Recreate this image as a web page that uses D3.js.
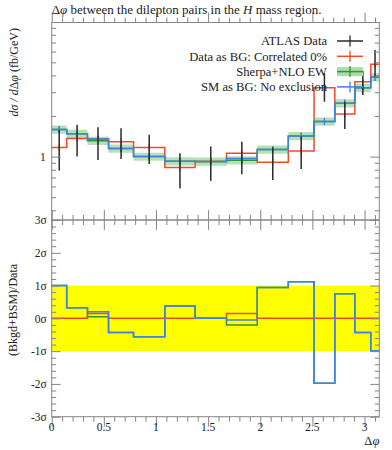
<!DOCTYPE html>
<meta charset="utf-8">
<body style="margin: 0; overflow: hidden; background: #fff">
<script src="https://d3js.org/d3.v7.min.js"></script>
<script>
    // bin edges in delta phi
    var edges = [0, 0.144, 0.343, 0.545, 0.785, 1.085, 1.375, 1.676, 1.971, 2.269, 2.516, 2.715, 2.907, 3.06, Math.PI];

    // top panel values (fb/GeV)
    var atlasData = [1.17, 1.36, 1.30, 1.29, 1.17, 0.83, 0.92, 1.015, 0.91, 1.10, 3.24, 2.07, 3.59, 4.83];
    var atlasErrUp = [0.41, 0.36, 0.35, 0.33, 0.28, 0.23, 0.27, 0.275, 0.26, 0.31, 0.91, 0.48, 0.72, 1.34];
    var atlasErrDn = [0.38, 0.36, 0.355, 0.33, 0.29, 0.25, 0.26, 0.275, 0.24, 0.29, 0.69, 0.47, 0.73, 0.92];
    var dataAsBG = [1.17, 1.36, 1.35, 1.29, 1.17, 0.83, 0.92, 1.06, 0.91, 1.10, 3.24, 2.07, 3.59, 4.83];
    var sherpa = [1.59, 1.48, 1.31, 1.15, 1.0, 0.925, 0.92, 0.94, 1.13, 1.42, 1.82, 2.49, 3.24, 3.87];
    var smAsBG = [1.59, 1.48, 1.35, 1.15, 1.0, 0.925, 0.92, 0.97, 1.13, 1.42, 1.82, 2.49, 3.24, 3.87];
    var sherpaBand = 0.07;   // relative half-width of the green band
    var mcRelErr = 0.06;

    // lower panel, pulls in sigma
    var pullDataBG = [0, 0, 0.15, 0, 0, 0, 0, 0.15, 0, 0, 0, 0, 0, 0];
    var pullSherpa = [1.0, 0.32, 0.05, -0.43, -0.56, 0.38, 0.0, -0.2, 0.94, 1.12, -1.98, 0.75, -0.43, -0.99];
    var pullSM = [1.0, 0.32, 0.2, -0.43, -0.56, 0.38, 0.0, -0.05, 0.94, 1.12, -1.98, 0.75, -0.43, -0.99];

    var xMajor = [0, 0.5, 1, 1.5, 2, 2.5, 3];
    var yTopLabels = [1];
    var sigmaTicks = [-3, -2, -1, 0, 1, 2, 3];

    var red = '#ef4a2c', blue = '#4181ea', green = '#2f972f', band = '#a9dca9';
    var frameCol = '#858585';
    var font = '"Liberation Serif", "DejaVu Serif", serif';

    var width = 392, height = 450;
    var left = 51.7, right = 379.3;
    var topY0 = 22.5, panelY = 220, botY1 = 416.7;

    var x = d3.scaleLinear().domain([0, Math.PI]).range([left, right]);
    var yTop = d3.scaleLog().domain([0.339, 9.86]).range([panelY, topY0]);
    var yRat = d3.scaleLinear().domain([-3, 3]).range([botY1, panelY]);

    var svg = d3.select('body').append('svg')
        .attr('width', width).attr('height', height)
        .style('font-family', font);

    var stepPath = function (vals, y) {
        var p = 'M' + x(edges[0]) + ',' + y(vals[0]);
        vals.forEach(function (v, i) {
            if (i > 0) p += 'V' + y(v);
            p += 'H' + x(edges[i + 1]);
        });
        return p;
    };

    var binIdx = d3.range(atlasData.length);
    var mid = function (i) { return (edges[i] + edges[i + 1]) / 2; };

    // ---------- top panel ----------
    var topG = svg.append('g');
    topG.append('clipPath').attr('id', 'clipTop').append('rect')
        .attr('x', left).attr('y', topY0).attr('width', right - left).attr('height', panelY - topY0);
    var topPlot = topG.append('g').attr('clip-path', 'url(#clipTop)');

    // sherpa band
    var bandPts = [];
    binIdx.forEach(function (i) {
        bandPts.push({x: edges[i], v: sherpa[i]});
        bandPts.push({x: edges[i + 1], v: sherpa[i]});
    });
    topPlot.append('path')
        .attr('d', d3.area()
            .x(function (d) { return x(d.x); })
            .y0(function (d) { return yTop(d.v * (1 - sherpaBand)); })
            .y1(function (d) { return yTop(d.v * (1 + sherpaBand)); })(bandPts))
        .attr('fill', band).attr('opacity', 0.85);

    var drawHist = function (g, vals, col) {
        g.append('path').attr('d', stepPath(vals, yTop))
            .attr('fill', 'none').attr('stroke', col).attr('stroke-width', 1.5);
        g.selectAll(null).data(binIdx).enter().append('line')
            .attr('x1', function (i) { return x(mid(i)); })
            .attr('x2', function (i) { return x(mid(i)); })
            .attr('y1', function (i) { return yTop(vals[i] * (1 + mcRelErr)); })
            .attr('y2', function (i) { return yTop(vals[i] / (1 + mcRelErr)); })
            .attr('stroke', col).attr('stroke-width', 1.2);
    };
    drawHist(topPlot, dataAsBG, red);
    drawHist(topPlot, sherpa, green);
    drawHist(topPlot, smAsBG, blue);

    // data points
    topPlot.selectAll(null).data(binIdx).enter().append('line')
        .attr('x1', function (i) { return x(mid(i)); })
        .attr('x2', function (i) { return x(mid(i)); })
        .attr('y1', function (i) { return yTop(atlasData[i] + atlasErrUp[i]); })
        .attr('y2', function (i) { return yTop(atlasData[i] - atlasErrDn[i]); })
        .attr('stroke', '#2a2a2a').attr('stroke-width', 1.5);

    // ---------- ratio panel ----------
    var bot = svg.append('g');
    bot.append('rect').attr('x', left).attr('width', right - left)
        .attr('y', yRat(1)).attr('height', yRat(-1) - yRat(1)).attr('fill', '#ffff00');
    [[pullSherpa, green], [pullDataBG, red], [pullSM, blue]].forEach(function (s) {
        bot.append('path').attr('d', stepPath(s[0], yRat))
            .attr('fill', 'none').attr('stroke', s[1]).attr('stroke-width', 1.5);
    });

    // ---------- axes / ticks ----------
    var notHalf = function (v) { return Math.abs(v * 2 - Math.round(v * 2)) > 1e-6; };
    var xMinor = d3.range(32).map(function (i) { return i / 10; }).filter(notHalf);

    var styleAxis = function (g) {
        g.select('.domain').remove();
        g.selectAll('line').attr('stroke', frameCol);
        g.selectAll('text').attr('fill', '#222').style('font-family', font).style('font-size', '11.5px');
    };

    var xTickRow = function (y, dir) {
        var mk = dir === 'top' ? d3.axisTop : d3.axisBottom;
        svg.append('g').attr('transform', 'translate(0,' + y + ')')
            .call(mk(x).tickValues(xMajor).tickSize(-10).tickSizeOuter(0).tickFormat(''))
            .call(styleAxis);
        svg.append('g').attr('transform', 'translate(0,' + y + ')')
            .call(mk(x).tickValues(xMinor).tickSize(-5).tickSizeOuter(0).tickFormat(''))
            .call(styleAxis);
    };
    xTickRow(topY0, 'bottom');
    xTickRow(panelY, 'top');
    xTickRow(panelY, 'bottom');
    xTickRow(botY1, 'top');

    // x labels under ratio panel
    svg.append('g').selectAll('text').data(xMajor).enter().append('text')
        .attr('x', function (d) { return x(d); }).attr('y', 430.5)
        .attr('text-anchor', 'middle').style('font-size', '11.5px').attr('fill', '#222')
        .text(function (d) { return d; });

    // top-panel y ticks
    var logMinor = [0.4, 0.5, 0.6, 0.7, 0.8, 0.9, 2, 3, 4, 5, 6, 7, 8, 9];
    [[left, d3.axisLeft], [right, d3.axisRight]].forEach(function (s, k) {
        svg.append('g').attr('transform', 'translate(' + s[0] + ',0)')
            .call(s[1](yTop).tickValues(yTopLabels).tickSize(-9).tickPadding(6)
                .tickFormat(k === 0 ? d3.format('') : ''))
            .call(styleAxis);
        svg.append('g').attr('transform', 'translate(' + s[0] + ',0)')
            .call(s[1](yTop).tickValues(logMinor).tickSize(-4.5).tickFormat(''))
            .call(styleAxis);
    });

    // ratio y ticks
    var sigMinor = d3.range(-30, 31, 2).filter(function (v) { return v % 10 !== 0; })
        .map(function (v) { return v / 10; });
    [[left, d3.axisLeft], [right, d3.axisRight]].forEach(function (s, k) {
        svg.append('g').attr('transform', 'translate(' + s[0] + ',0)')
            .call(s[1](yRat).tickValues(sigmaTicks).tickSize(-9).tickPadding(5)
                .tickFormat(k === 0 ? function (d) { return d + 'σ'; } : ''))
            .call(styleAxis);
        svg.append('g').attr('transform', 'translate(' + s[0] + ',0)')
            .call(s[1](yRat).tickValues(sigMinor).tickSize(-4.5).tickFormat(''))
            .call(styleAxis);
    });

    // frames
    svg.append('rect').attr('x', left).attr('y', topY0).attr('width', right - left)
        .attr('height', panelY - topY0).attr('fill', 'none').attr('stroke', frameCol);
    svg.append('rect').attr('x', left).attr('y', panelY).attr('width', right - left)
        .attr('height', botY1 - panelY).attr('fill', 'none').attr('stroke', frameCol);

    // ---------- text ----------
    var title = svg.append('text').attr('x', left).attr('y', 14).style('font-size', '13px').attr('fill', '#222');
    title.append('tspan').text('Δ');
    title.append('tspan').style('font-style', 'italic').text('φ');
    title.append('tspan').text(' between the dilepton pairs in the ');
    title.append('tspan').style('font-style', 'italic').text('H');
    title.append('tspan').text(' mass region.');

    var ylab = svg.append('text').attr('transform', 'translate(17.5,28) rotate(-90)')
        .attr('text-anchor', 'end').style('font-size', '12px').attr('fill', '#222');
    ylab.append('tspan').style('font-style', 'italic').text('dσ / d');
    ylab.append('tspan').text('Δ');
    ylab.append('tspan').style('font-style', 'italic').text('φ');
    ylab.append('tspan').text(' (fb/GeV)');

    svg.append('text').attr('transform', 'translate(17,310) rotate(-90)')
        .attr('text-anchor', 'middle').style('font-size', '12px').attr('fill', '#222')
        .text('(Bkgd+BSM)/Data');

    var xlab = svg.append('text').attr('x', right).attr('y', 445)
        .attr('text-anchor', 'end').style('font-size', '12.5px').attr('fill', '#222');
    xlab.append('tspan').text('Δ');
    xlab.append('tspan').style('font-style', 'italic').text('φ');

    // ---------- legend ----------
    var legendItems = [
        {name: 'ATLAS Data', col: '#2a2a2a', band: false},
        {name: 'Data as BG: Correlated 0%', col: red, band: false},
        {name: 'Sherpa+NLO EW', col: green, band: true},
        {name: 'SM as BG: No exclusion', col: blue, band: false}
    ];
    var leg = svg.append('g').selectAll('g').data(legendItems).enter().append('g')
        .attr('transform', function (d, i) { return 'translate(0,' + (41 + i * 15.3) + ')'; });
    leg.filter(function (d) { return d.band; }).append('rect')
        .attr('x', 337).attr('y', -4.5).attr('width', 26).attr('height', 9).attr('fill', band);
    leg.append('line').attr('x1', 337).attr('x2', 363)
        .attr('stroke', function (d) { return d.col; }).attr('stroke-width', 1.5);
    leg.append('line').attr('x1', 350).attr('x2', 350).attr('y1', -5.5).attr('y2', 5.5)
        .attr('stroke', function (d) { return d.col; }).attr('stroke-width', 1.3);
    leg.append('text').attr('x', 327).attr('y', 4.3).attr('text-anchor', 'end')
        .style('font-size', '12.6px').attr('fill', '#222')
        .text(function (d) { return d.name; });
</script>
